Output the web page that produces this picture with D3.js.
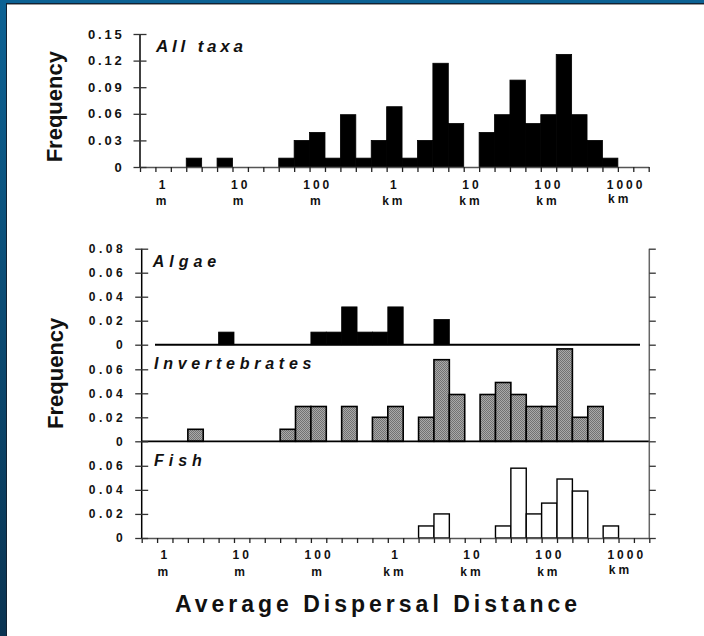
<!DOCTYPE html>
<html>
<head>
<meta charset="utf-8">
<script src="https://cdn.jsdelivr.net/npm/d3@7"></script>
<style>
  body { margin: 0; background: #fff; }
  svg { display: block; font-family: Arial, "Liberation Sans", sans-serif; }
</style>
</head>
<body>
<svg id="chart" width="704" height="636"></svg>
<script>
// bins are 0.2 decades wide, in log10(metres), starting at -0.3
const binStart = -0.3
const binStep = 0.2
const binCount = 33

const allTaxa = [0, 0, 0, 0.010, 0, 0.010, 0, 0, 0, 0.010, 0.030, 0.039, 0.010, 0.059, 0.010, 0.030,
  0.068, 0.010, 0.030, 0.117, 0.049, 0, 0.039, 0.059, 0.098, 0.049, 0.059, 0.127, 0.059, 0.030, 0.010, 0, 0]
const algae = [0, 0, 0, 0, 0, 0.0105, 0, 0, 0, 0, 0, 0.0105, 0.0105, 0.0315, 0.0105, 0.0105,
  0.0315, 0, 0, 0.021, 0, 0, 0, 0, 0, 0, 0, 0, 0, 0, 0, 0, 0]
const invertebrates = [0, 0, 0, 0.010, 0, 0, 0, 0, 0, 0.010, 0.029, 0.029, 0, 0.029, 0, 0.020,
  0.029, 0, 0.020, 0.068, 0.039, 0, 0.039, 0.049, 0.039, 0.029, 0.029, 0.077, 0.020, 0.029, 0, 0, 0]
const fish = [0, 0, 0, 0, 0, 0, 0, 0, 0, 0, 0, 0, 0, 0, 0, 0,
  0, 0, 0.010, 0.020, 0, 0, 0, 0.010, 0.058, 0.020, 0.029, 0.049, 0.039, 0, 0.010, 0, 0]

const topTicks = [0, 0.03, 0.06, 0.09, 0.12, 0.15]
const lowerTicks = [0, 0.02, 0.04, 0.06]
const algaeTicks = [0, 0.02, 0.04, 0.06, 0.08]

const distLog = [0, 1, 2, 3, 4, 5, 6]
const distNumbers = ["1", "10", "100", "1", "10", "100", "1000"]
const distUnits = ["m", "m", "m", "km", "km", "km", "km"]

const svg = d3.select("#chart")
const defs = svg.append("defs")

// frame
const grad = defs.append("linearGradient").attr("id", "frame").attr("x1", 0).attr("y1", 0).attr("x2", 0).attr("y2", 1)
grad.append("stop").attr("offset", "0%").attr("stop-color", "#0c6294")
grad.append("stop").attr("offset", "100%").attr("stop-color", "#0a3452")
svg.append("rect").attr("width", 704).attr("height", 636).attr("fill", "url(#frame)")
svg.append("rect").attr("x", 7).attr("y", 4).attr("width", 697).attr("height", 632).attr("fill", "#fff")
svg.append("line").attr("x1", 6.5).attr("x2", 6.5).attr("y1", 3).attr("y2", 636).attr("stroke", "#123")
svg.append("line").attr("x1", 6).attr("x2", 704).attr("y1", 3.5).attr("y2", 3.5).attr("stroke", "#123")
svg.append("line").attr("x1", 7).attr("x2", 704).attr("y1", 4.5).attr("y2", 4.5).attr("stroke", "#999")

// stipple for invertebrates
const pat = defs.append("pattern").attr("id", "stipple").attr("patternUnits", "userSpaceOnUse")
  .attr("width", 2).attr("height", 2)
pat.append("rect").attr("width", 2).attr("height", 2).attr("fill", "#a9a9a9")
pat.append("rect").attr("width", 1).attr("height", 1).attr("fill", "#727272")
pat.append("rect").attr("x", 1).attr("y", 1).attr("width", 1).attr("height", 1).attr("fill", "#727272")

const edges = d3.range(binCount + 1).map(i => binStart + i * binStep)

const drawBars = function (g, x, y, values, fill, stroke, sw) {
  const bins = values.map((v, i) => ({ i: i, v: v })).filter(d => d.v > 0)
  g.selectAll(null).data(bins).enter().append("rect")
    .attr("x", d => x(edges[d.i]))
    .attr("width", d => x(edges[d.i + 1]) - x(edges[d.i]))
    .attr("y", d => y(d.v))
    .attr("height", d => y(0) - y(d.v))
    .attr("fill", fill)
    .attr("stroke", stroke)
    .attr("stroke-width", sw)
}

const leftAxis = function (y, ticks, xPos, size, ls, fmt) {
  const g = svg.append("g").attr("transform", `translate(${xPos},0)`)
    .call(d3.axisLeft(y).tickValues(ticks).tickSize(6.5).tickPadding(9).tickSizeOuter(0).tickFormat(fmt))
  g.select(".domain").remove()
  g.selectAll(".tick line").attr("x1", 6.5).attr("stroke", "#333").attr("stroke-width", 1.3)
  g.selectAll(".tick text").style("font-size", size + "px").style("font-weight", "bold")
    .style("letter-spacing", ls + "px").attr("fill", "#111").attr("font-family", null)
  return g
}

const fmtTick = d => d === 0 ? "0" : d3.format(".2f")(d)

const distanceLabels = function (x, yNum, yUnit) {
  const g = svg.append("g").style("font-size", "12px").style("font-weight", "bold")
    .style("letter-spacing", "3px").attr("fill", "#111")
  distLog.forEach((v, i) => {
    const cx = x(v) + 0.5
    g.append("text").attr("x", cx).attr("y", yNum).attr("text-anchor", "middle").text(distNumbers[i])
    const last = i === distLog.length - 1
    g.append("text").attr("x", last ? cx - 18 : cx - 1).attr("y", last ? yUnit - 2 : yUnit)
      .attr("text-anchor", last ? "start" : "middle").text(distUnits[i])
  })
}

const bottomAxis = function (x, yPos) {
  const g = svg.append("g").attr("transform", `translate(0,${yPos})`)
    .call(d3.axisBottom(x).tickValues(edges).tickSize(5).tickSizeOuter(0).tickFormat(""))
  g.select(".domain").attr("stroke", "#555").attr("stroke-width", 1.3)
  g.selectAll(".tick line").attr("stroke", "#222").attr("stroke-width", 1.3)
}

const panelLabel = function (x, y, txt, size, ls) {
  svg.append("text").attr("x", x).attr("y", y).text(txt)
    .style("font-size", size + "px").style("font-weight", "bold").style("font-style", "italic")
    .style("letter-spacing", ls + "px").attr("fill", "#111")
}

const yTitle = function (x, y) {
  svg.append("text").attr("transform", `translate(${x},${y}) rotate(-90)`).attr("text-anchor", "middle")
    .style("font-size", "22px").style("font-weight", "bold").attr("fill", "#111").text("Frequency")
}

// ---- top panel: all taxa
const xTop = d3.scaleLinear().domain([edges[0], edges[binCount]]).range([140, 648.7])
const yTop = d3.scaleLinear().domain([0, 0.15]).range([167, 34])
const gTop = svg.append("g")
drawBars(gTop, xTop, yTop, allTaxa, "#000", "#000", 0.8)
bottomAxis(xTop, 167)
svg.append("line").attr("x1", 140).attr("x2", 140).attr("y1", 34).attr("y2", 167).attr("stroke", "#000").attr("stroke-width", 1.5)
leftAxis(yTop, topTicks, 140, 13, 2.8, fmtTick)
distanceLabels(xTop, 188.5, 205)
panelLabel(156, 51.7, "All taxa", 17, 3.8)
yTitle(61.5, 106.7)

// ---- lower panels
const xLow = d3.scaleLinear().domain([edges[0], edges[binCount]]).range([141.7, 649.3])
const yAlgae = d3.scaleLinear().domain([0, 0.08]).range([344.7, 248.7])
const yInv = d3.scaleLinear().domain([0, 0.08]).range([441.3, 345.3])
const yFish = d3.scaleLinear().domain([0, 0.08]).range([538, 441.7])

const gLow = svg.append("g")
drawBars(gLow, xLow, yAlgae, algae, "#000", "#000", 0.8)
drawBars(gLow, xLow, yInv, invertebrates, "url(#stipple)", "#000", 1.6)
drawBars(gLow, xLow, yFish, fish, "#fff", "#000", 1.4)

// baselines
svg.append("line").attr("x1", 155).attr("x2", 640).attr("y1", yAlgae(0)).attr("y2", yAlgae(0)).attr("stroke", "#000").attr("stroke-width", 2)
svg.append("line").attr("x1", 141.7).attr("x2", 649.3).attr("y1", yInv(0)).attr("y2", yInv(0)).attr("stroke", "#000").attr("stroke-width", 1.8)
bottomAxis(xLow, 538)

// left and right axes
svg.append("line").attr("x1", 141.7).attr("x2", 141.7).attr("y1", 248.7).attr("y2", 538).attr("stroke", "#000").attr("stroke-width", 1.5)
svg.append("line").attr("x1", 649.3).attr("x2", 649.3).attr("y1", 248.7).attr("y2", 538).attr("stroke", "#666").attr("stroke-width", 1.5)
leftAxis(yAlgae, algaeTicks, 141.7, 12, 3.5, fmtTick)
leftAxis(yInv, lowerTicks, 141.7, 12, 3.5, fmtTick)
leftAxis(yFish, lowerTicks, 141.7, 12, 3.5, fmtTick)

const rightTicks = function (y, ticks) {
  const g = svg.append("g").attr("transform", "translate(649.3,0)")
    .call(d3.axisRight(y).tickValues(ticks).tickSize(6.5).tickSizeOuter(0).tickFormat(""))
  g.select(".domain").remove()
  g.selectAll(".tick line").attr("stroke", "#333").attr("stroke-width", 1.3)
}
rightTicks(yAlgae, algaeTicks)
rightTicks(yInv, lowerTicks)
rightTicks(yFish, lowerTicks)

distanceLabels(xLow, 559.3, 575.7)
panelLabel(152.7, 266.7, "Algae", 16, 5)
panelLabel(154, 369.3, "Invertebrates", 16, 4.75)
panelLabel(154, 465.7, "Fish", 16, 5)
yTitle(63.3, 373.3)

svg.append("text").attr("x", 378).attr("y", 611.7).attr("text-anchor", "middle")
  .style("font-size", "23px").style("font-weight", "bold").style("letter-spacing", "4px")
  .attr("fill", "#111").text("Average Dispersal Distance")
</script>
</body>
</html>
